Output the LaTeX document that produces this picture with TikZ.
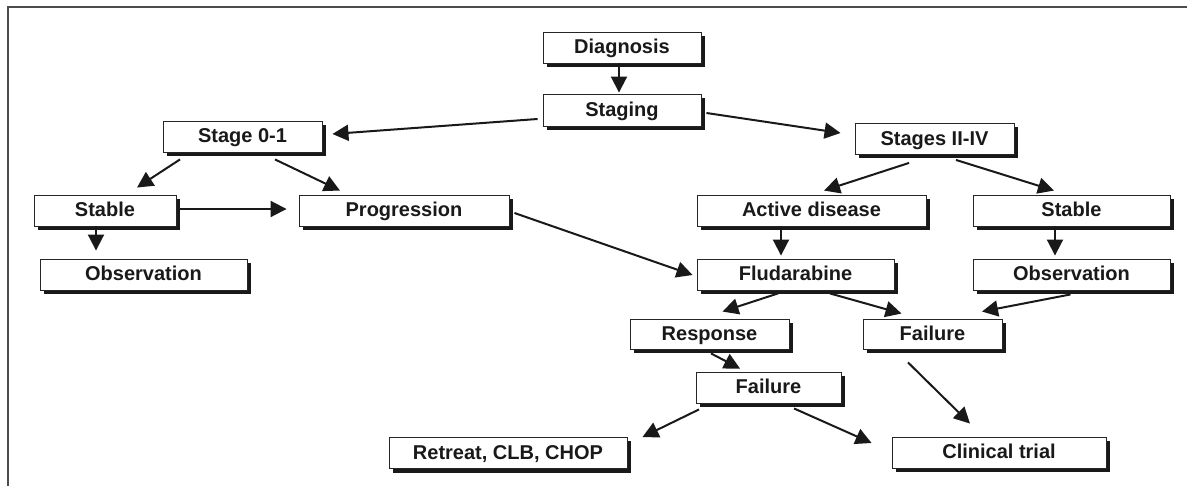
\documentclass[tikz,border=0pt]{standalone}
\usepackage{fontspec}
\setmainfont{Liberation Sans}
\usetikzlibrary{arrows.meta,shadows}
\begin{document}
\begin{tikzpicture}[x=1pt,y=-1pt,
  box/.style={draw=black!85,line width=0.9pt,fill=white,rectangle,inner sep=0pt,
    minimum height=31pt,font=\fontsize{20}{22}\selectfont\bfseries,text=black!90,
    text height=14.2pt,text depth=2pt,
    drop shadow={shadow xshift=4pt,shadow yshift=-4pt,fill=black!90,opacity=1}},
  conn/.style={line width=2pt,black!90,-{Triangle[length=16pt,width=16pt]}},
  frame/.style={line width=1.5pt,black!70}]
\useasboundingbox (0,0) rectangle (1187,486);
\draw[frame] (8,486) -- (8,7) -- (1187,7);
% nodes
\node[box,minimum width=158pt] (diag) at (622,47.5) {Diagnosis};
\node[box,minimum width=158pt,minimum height=32pt] (stag) at (622,110) {Staging};
\node[box,minimum width=159pt] (s01) at (242.5,136.5) {Stage 0-1};
\node[box,minimum width=142pt] (stabL) at (105,210.5) {Stable};
\node[box,minimum width=210pt] (prog) at (404,210.5) {Progression};
\node[box,minimum width=207pt] (obsL) at (143.5,274.5) {Observation};
\node[box,minimum width=159pt] (s24) at (934.5,139) {Stages II-IV};
\node[box,minimum width=229pt] (act) at (811.5,210.5) {Active disease};
\node[box,minimum width=197pt] (stabR) at (1071.5,210.5) {Stable};
\node[box,minimum width=197pt] (flud) at (795.5,274.5) {Fludarabine};
\node[box,minimum width=197pt] (obsR) at (1071.5,274.5) {Observation};
\node[box,minimum width=159pt,minimum height=30pt] (resp) at (709.5,334) {Response};
\node[box,minimum width=139pt,minimum height=30pt] (failR) at (932.5,334) {Failure};
\node[box,minimum width=145pt] (failL) at (768.5,387.5) {Failure};
\node[box,minimum width=238pt] (retr) at (508,453) {Retreat, CLB, CHOP};
\node[box,minimum width=214pt] (clin) at (999,452.5) {Clinical trial};
% connectors
\draw[conn] ([shift={(-3,0)}]diag.south) -- ([shift={(-3,-1)}]stag.north);
\draw[conn] ([shift={(-5,9)}]stag.west) -- ([shift={(10,-2.5)}]s01.east);
\draw[conn] ([shift={(5,3)}]stag.east) -- ([shift={(-14,-6)}]s24.west);
\draw[conn] ([shift={(-62.5,7)}]s01.south) -- ([shift={(32,-7)}]stabL.north);
\draw[conn] ([shift={(32.5,7)}]s01.south) -- ([shift={(-64,-4)}]prog.north);
\draw[conn] ([shift={(4,-1.5)}]stabL.east) -- ([shift={(-12,-1.5)}]prog.west);
\draw[conn] ([shift={(-9,0)}]stabL.south) -- ([shift={(-47.5,-8)}]obsL.north);
\draw[conn] ([shift={(5,2.5)}]prog.east) -- ([shift={(-4,0.5)}]flud.west);
\draw[conn] ([shift={(-25.5,8)}]s24.south) -- ([shift={(12.5,-4)}]act.north);
\draw[conn] ([shift={(21.5,5)}]s24.south) -- ([shift={(-17.5,-4)}]stabR.north);
\draw[conn] ([shift={(-30.5,0)}]act.south) -- ([shift={(-14.5,-3)}]flud.north);
\draw[conn] ([shift={(-16.5,0)}]stabR.south) -- ([shift={(-16.5,-3)}]obsR.north);
\draw[conn] ([shift={(-17.5,3)}]flud.south) -- ([shift={(13,-7)}]resp.north);
\draw[conn] ([shift={(34.5,3)}]flud.south) -- ([shift={(-31,-5)}]failR.north);
\draw[conn] ([shift={(-1,4)}]obsR.south) -- ([shift={(49.5,-7)}]failR.north);
\draw[conn] ([shift={(1.5,4)}]resp.south) -- ([shift={(-28.5,-3)}]failL.north);
\draw[conn] ([shift={(-69.5,6)}]failL.south) -- ([shift={(15,0)}]retr.north east);
\draw[conn] ([shift={(25.5,5)}]failL.south) -- ([shift={(-20,-9.5)}]clin.west);
\draw[conn] ([shift={(-24.5,13)}]failR.south) -- ([shift={(-29,-13)}]clin.north);
\end{tikzpicture}
\end{document}
